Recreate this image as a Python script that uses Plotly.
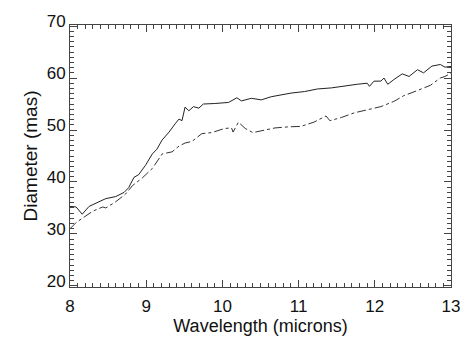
import plotly.graph_objects as go

# upper (solid) curve
wl_solid = [8.0, 8.08, 8.16, 8.25, 8.38, 8.47, 8.6, 8.71, 8.77, 8.84, 8.9, 8.99, 9.08, 9.14,
            9.21, 9.3, 9.38, 9.43, 9.47, 9.51, 9.56, 9.62, 9.69, 9.75, 9.9, 10.08, 10.19,
            10.25, 10.38, 10.51, 10.64, 10.77, 10.9, 11.08, 11.25, 11.43, 11.6, 11.77, 11.9,
            11.93, 11.99, 12.08, 12.12, 12.17, 12.25, 12.36, 12.45, 12.56, 12.64, 12.75,
            12.86, 12.92, 13.05]
diam_solid = [35.3, 35.2, 33.8, 35.3, 36.2, 36.8, 37.2, 38.0, 38.9, 40.9, 41.4, 43.2, 45.4, 46.3,
              48.1, 49.6, 51.2, 52.1, 51.8, 54.4, 53.7, 54.5, 54.2, 55.0, 55.1, 55.3, 56.2,
              55.6, 56.1, 55.8, 56.4, 56.8, 57.1, 57.4, 57.9, 58.1, 58.5, 58.8, 59.0,
              58.4, 59.4, 59.4, 60.0, 58.8, 59.7, 60.8, 60.3, 61.6, 61.0, 62.3,
              62.6, 62.1, 62.3]

# lower (dash-dot) curve
wl_dash = [8.0, 8.08, 8.17, 8.3, 8.43, 8.47, 8.6, 8.73, 8.82, 8.95, 9.08, 9.14, 9.21, 9.34,
           9.43, 9.51, 9.6, 9.73, 9.86, 10.03, 10.12, 10.14, 10.21, 10.3, 10.4, 10.56, 10.69,
           10.86, 11.03, 11.2, 11.36, 11.41, 11.56, 11.73, 11.9, 12.08, 12.25, 12.38, 12.56,
           12.73, 12.86, 12.92, 13.05]
diam_dash = [31.0, 32.2, 33.1, 34.4, 35.2, 35.0, 36.2, 37.7, 39.3, 40.8, 42.6, 44.0, 45.4, 45.8,
             46.9, 47.5, 47.8, 49.3, 49.5, 50.3, 50.4, 49.6, 51.5, 50.3, 49.5, 50.0, 50.4,
             50.6, 50.7, 51.5, 52.7, 51.8, 52.4, 53.3, 53.9, 54.5, 55.5, 56.6, 57.6,
             58.6, 60.0, 60.3, 61.3]

FONT = 'Liberation Sans, Arial, sans-serif'

fig = go.Figure()
fig.add_trace(go.Scatter(x=wl_solid, y=diam_solid, mode='lines',
                         line=dict(color='#222222', width=1)))
fig.add_trace(go.Scatter(x=wl_dash, y=diam_dash, mode='lines',
                         line=dict(color='#333333', width=1, dash='dashdot')))

axis_style = dict(
    showgrid=False, zeroline=False, showline=True, linecolor='#444444', linewidth=1,
    mirror='allticks', ticks='inside', ticklen=7, tickcolor='#444444',
    minor=dict(ticks='inside', ticklen=4, tickcolor='#444444', nticks=10),
    tickfont=dict(family=FONT, size=17, color='#111111'),
)

fig.update_xaxes(range=[8, 13.0], dtick=1, tick0=8, ticklabelstandoff=4,
                 title=dict(text='Wavelength (microns)', standoff=2,
                            font=dict(family=FONT, size=18, color='#111111')),
                 **axis_style)
fig.update_yaxes(range=[19.8, 70.2], dtick=10, tick0=20, ticklabelshift=-5,
                 title=dict(text='Diameter (mas)', standoff=4,
                            font=dict(family=FONT, size=19, color='#111111')),
                 **axis_style)

fig.update_layout(width=472, height=354, showlegend=False,
                  plot_bgcolor='white', paper_bgcolor='white',
                  margin=dict(l=70, r=15, t=14, b=67))
# drop the default body margin so the figure sits at the window's top-left corner
fig.write_html("out.html", config={'displayModeBar': False},
               post_script="document.body.style.margin='0';")
